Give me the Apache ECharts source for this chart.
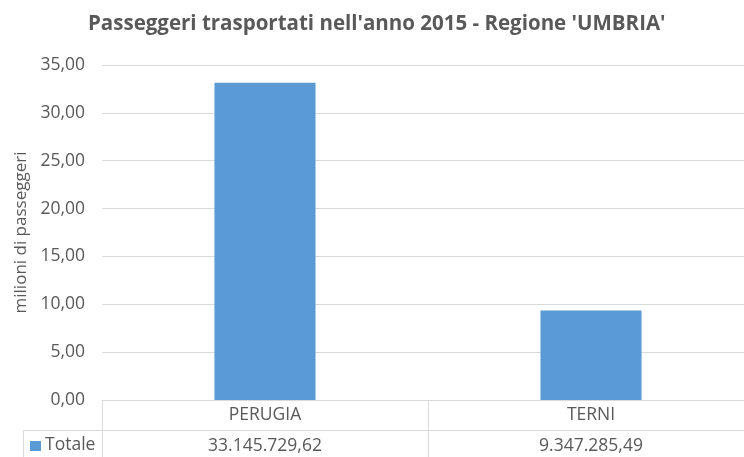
<!DOCTYPE html>
<html>
<head>
<meta charset="utf-8">
<script src="https://cdn.jsdelivr.net/npm/echarts@6/dist/echarts.min.js"></script>
<style>
  html, body { margin: 0; padding: 0; background: #fff; }
  #bar { width: 744px; height: 457px; }
</style>
</head>
<body>
<div id="bar"></div>
<script>
var categories = ['PERUGIA', 'TERNI'];
var totale = [33145729.62, 9347285.49]; // passeggeri
var yTicks = [0, 5, 10, 15, 20, 25, 30, 35];

var FONT = 'Open Sans, sans-serif';
var GREY = '#595959';
var LINE = '#d9d9d9';

// 33.145.729,62
function fmtIt(v) {
    var s = v.toFixed(2).split('.');
    return s[0].replace(/\B(?=(\d{3})+(?!\d))/g, '.') + ',' + s[1];
}

var dom = document.getElementById("bar");
var myChart = echarts.init(dom);

option = {
    animation: false,
    title: {
        text: "Passeggeri trasportati nell'anno 2015 - Regione 'UMBRIA'",
        left: 83,
        top: 9,
        textStyle: { color: GREY, fontSize: 20.5, fontWeight: 'bold', fontFamily: FONT }
    },
    color: ['#5b9bd5'],
    grid: {
        left: 102,
        width: 652,
        top: 65,
        bottom: 57,
        outerBoundsMode: 'none'
    },
    xAxis: [
        {
            type: 'category',
            data: categories,
            axisLine: { show: true, lineStyle: { color: LINE } },
            axisTick: { show: false },
            axisLabel: { color: GREY, fontSize: 17.5, fontFamily: FONT, margin: 6 }
        },
        {
            type: 'category',
            position: 'bottom',
            offset: 31,
            data: totale.map(fmtIt),
            axisLine: { show: false },
            axisTick: { show: false },
            axisLabel: { color: GREY, fontSize: 17.5, fontFamily: FONT, margin: 6 }
        }
    ],
    yAxis: {
        type: 'value',
        min: yTicks[0],
        max: yTicks[yTicks.length - 1],
        interval: 5,
        name: 'milioni di passeggeri',
        nameLocation: 'middle',
        nameGap: 72,
        nameTextStyle: { color: GREY, fontSize: 17, fontFamily: FONT },
        axisLine: { show: false },
        axisTick: { show: false },
        axisLabel: {
            color: GREY, fontSize: 17.5, fontFamily: FONT, margin: 17,
            formatter: function (v) { return v.toFixed(2).replace('.', ','); }
        },
        splitLine: { lineStyle: { color: LINE } }
    },
    series: [
        {
            name: 'Totale',
            type: 'bar',
            barWidth: '31%',
            data: totale.map(function (v) { return v / 1e6; })
        }
    ],
    // data table borders and legend key
    graphic: [
        { type: 'line', shape: { x1: 23, y1: 430.5, x2: 744, y2: 430.5 }, style: { stroke: LINE } },
        { type: 'line', shape: { x1: 23.5, y1: 430, x2: 23.5, y2: 457 }, style: { stroke: LINE } },
        { type: 'line', shape: { x1: 102.5, y1: 400, x2: 102.5, y2: 457 }, style: { stroke: LINE } },
        { type: 'line', shape: { x1: 428.5, y1: 400, x2: 428.5, y2: 457 }, style: { stroke: LINE } },
        { type: 'rect', shape: { x: 30, y: 441, width: 11, height: 10 }, style: { fill: '#5b9bd5' } },
        { type: 'text', left: 45, top: 436, style: { text: 'Totale', fill: GREY, font: '17.5px ' + FONT } }
    ]
};
if (option && typeof option === "object") {
    myChart.setOption(option, true);
}
</script>
</body>
</html>
